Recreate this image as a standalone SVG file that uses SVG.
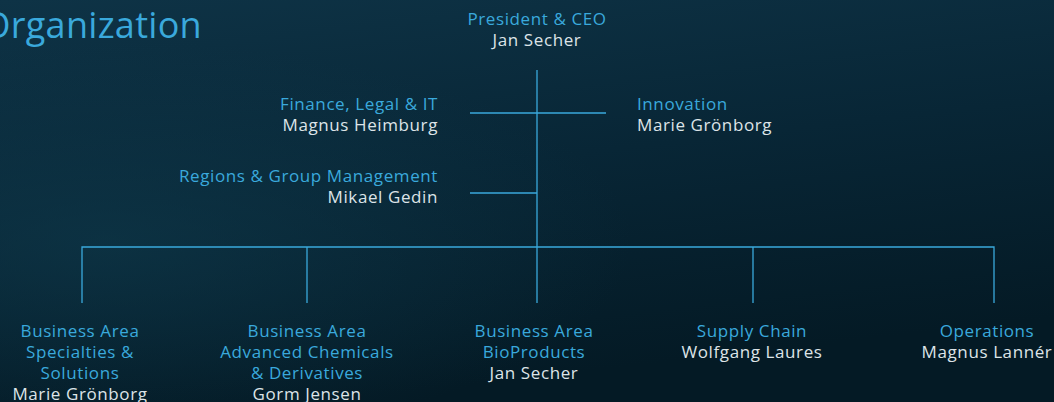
<svg xmlns="http://www.w3.org/2000/svg" width="1054" height="402" viewBox="0 0 1054 402">
<defs>
<linearGradient id="bg" x1="0" y1="0" x2="0.3" y2="1">
<stop offset="0" stop-color="#0e3346"/>
<stop offset="0.5" stop-color="#082636"/>
<stop offset="1" stop-color="#041a25"/>
</linearGradient>
<radialGradient id="glow" cx="0.1" cy="0.6" r="0.5">
<stop offset="0" stop-color="#0f3a4c" stop-opacity="0.6"/>
<stop offset="1" stop-color="#0f3a4c" stop-opacity="0"/>
</radialGradient>
</defs>
<style>
.t{font-family:"Open Sans","Noto Sans","DejaVu Sans",sans-serif;font-size:17px;letter-spacing:0.6px;}
.c{fill:#3aa9dc;}
.w{fill:#dde4e8;}
.m{text-anchor:middle;}
.e{text-anchor:end;}
.ln{stroke:#3aa9dc;stroke-width:1.3;fill:none;}
</style>
<rect width="1054" height="402" fill="url(#bg)"/>
<rect width="1054" height="402" fill="url(#glow)"/>
<text x="202" y="38" class="t c" style="font-size:36px;letter-spacing:0.3px;text-anchor:end">Organization</text>
<g id="connectors">
<line class="ln" x1="537" y1="70" x2="537" y2="303"/>
<line class="ln" x1="470" y1="113" x2="606" y2="113"/>
<line class="ln" x1="470" y1="193" x2="537" y2="193"/>
<polyline class="ln" points="82,303 82,247 994,247 994,303"/>
<line class="ln" x1="307" y1="247" x2="307" y2="303"/>
<line class="ln" x1="753" y1="247" x2="753" y2="303"/>
</g>
<g id="ceo" class="t m">
<text x="537" y="25" class="c">President &amp; CEO</text>
<text x="537" y="46" class="w">Jan Secher</text>
</g>
<g id="finance" class="t e">
<text x="438" y="110" class="c">Finance, Legal &amp; IT</text>
<text x="438" y="131" class="w">Magnus Heimburg</text>
</g>
<g id="innovation" class="t">
<text x="637" y="110" class="c">Innovation</text>
<text x="637" y="131" class="w">Marie Grönborg</text>
</g>
<g id="regions" class="t e">
<text x="438" y="182" class="c">Regions &amp; Group Management</text>
<text x="438" y="203" class="w">Mikael Gedin</text>
</g>
<g id="specialties" class="t m">
<text x="80" y="337" class="c">Business Area</text>
<text x="80" y="358" class="c">Specialties &amp;</text>
<text x="80" y="379" class="c">Solutions</text>
<text x="80" y="400" class="w">Marie Grönborg</text>
</g>
<g id="chemicals" class="t m">
<text x="307" y="337" class="c">Business Area</text>
<text x="307" y="358" class="c">Advanced Chemicals</text>
<text x="307" y="379" class="c">&amp; Derivatives</text>
<text x="307" y="400" class="w">Gorm Jensen</text>
</g>
<g id="bioproducts" class="t m">
<text x="534" y="337" class="c">Business Area</text>
<text x="534" y="358" class="c">BioProducts</text>
<text x="534" y="379" class="w">Jan Secher</text>
</g>
<g id="supply" class="t m">
<text x="752" y="337" class="c">Supply Chain</text>
<text x="752" y="358" class="w">Wolfgang Laures</text>
</g>
<g id="operations" class="t m">
<text x="987" y="337" class="c">Operations</text>
<text x="987" y="358" class="w">Magnus Lannér</text>
</g>
</svg>
